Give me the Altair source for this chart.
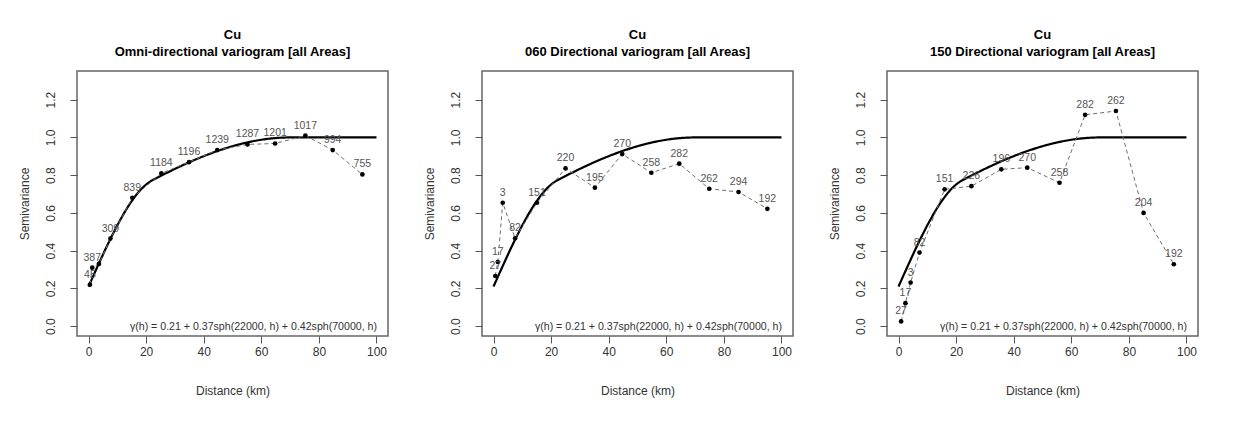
import altair as alt
import numpy as np
import pandas as pd

# ---------------- data ----------------
omni_dist = [0.5, 1.3, 3.6, 7.6, 15.2, 25.3, 34.9, 44.7, 55.2, 64.8, 75.3, 84.8, 95.1]
omni_gamma = [0.22, 0.31, 0.33, 0.464, 0.68, 0.81, 0.869, 0.933, 0.963, 0.968, 1.01, 0.933, 0.804]
omni_np = ["45", "387", "", "309", "839", "1184", "1196", "1239", "1287", "1201", "1017", "994", "755"]

d060_dist = [0.6, 1.5, 3.2, 7.5, 15.1, 25.0, 35.2, 44.7, 54.8, 64.5, 74.9, 85.1, 95.1]
d060_gamma = [0.266, 0.34, 0.654, 0.466, 0.654, 0.836, 0.734, 0.912, 0.813, 0.861, 0.728, 0.711, 0.622]
d060_np = ["27", "17", "3", "82", "151", "220", "195", "270", "258", "282", "262", "294", "192"]

d150_dist = [0.9, 2.4, 4.2, 7.3, 16.0, 25.3, 35.7, 44.7, 55.9, 64.8, 75.5, 85.1, 95.6]
d150_gamma = [0.025, 0.122, 0.231, 0.39, 0.725, 0.742, 0.831, 0.84, 0.76, 1.12, 1.14, 0.60, 0.328]
d150_np = ["27", "17", "3", "82", "151", "226", "196", "270", "258", "282", "262", "204", "192"]

# fitted model shown on the chart: 0.21 + 0.37 sph(22000, h) + 0.42 sph(70000, h)
nugget = 0.21
sills = [0.37, 0.42]
ranges_m = [22000, 70000]
model_km = list(np.arange(0, 100.25, 0.5))

panel_titles = [
    ["Cu", "Omni-directional variogram [all Areas]"],
    ["Cu", "060 Directional variogram [all Areas]"],
    ["Cu", "150 Directional variogram [all Areas]"],
]
formula_text = "\u03b3(h) = 0.21 + 0.37sph(22000, h) + 0.42sph(70000, h)"
x_ticks = [0, 20, 40, 60, 80, 100]
y_ticks = [0.0, 0.2, 0.4, 0.6, 0.8, 1.0, 1.2]


def sph(a, h):
    r = np.minimum(np.asarray(h) / a, 1.0)
    return 1.5 * r - 0.5 * r ** 3


hm = np.asarray(model_km) * 1000.0
model_gamma = nugget + sum(s * sph(a, hm) for s, a in zip(sills, ranges_m))
model_df = pd.DataFrame({"dist": model_km, "gamma": model_gamma})

FONT = "Liberation Sans"
W, H = 311, 265

xs = alt.Scale(domain=[-4, 104], nice=False, zero=False)
ys = alt.Scale(domain=[-0.052, 1.352], nice=False, zero=False)
x_axis = alt.Axis(values=x_ticks, title="Distance (km)", labelPadding=3, titlePadding=28)
y_axis = alt.Axis(values=y_ticks, format=".1f", title="Semivariance", labelAngle=270,
                  labelAlign="center", labelBaseline="bottom", labelPadding=13, titlePadding=13)


def panel(dist, gamma, labels, title):
    df = pd.DataFrame({"dist": dist, "gamma": gamma, "np": labels})
    X = alt.X("dist:Q", scale=xs, axis=x_axis)
    Y = alt.Y("gamma:Q", scale=ys, axis=y_axis)
    model = alt.Chart(model_df).mark_line(color="black", strokeWidth=2.2).encode(x=X, y=Y)
    dashed = alt.Chart(df).mark_line(color="#707070", strokeWidth=1, strokeDash=[4, 3]).encode(
        x=X, y=Y, order="dist:Q")
    pts = alt.Chart(df).mark_circle(color="black", size=22, opacity=1).encode(x=X, y=Y)
    txt = alt.Chart(df).mark_text(dy=-10, fontSize=10.5, color="#555555", font=FONT).encode(
        x=X, y=Y, text="np:N")
    formula = alt.Chart(pd.DataFrame({"t": [formula_text]})).mark_text(
        align="right", baseline="middle", fontSize=10.6, color="#333333", font=FONT
    ).encode(x=alt.value(300), y=alt.value(256), text="t:N")
    return alt.layer(model, dashed, pts, txt, formula).properties(
        width=W, height=H,
        title=alt.TitleParams(title, fontSize=13, fontWeight="bold", font=FONT, lineHeight=17,
                              anchor="middle", offset=12, color="black"),
    )


chart = alt.hconcat(
    panel(omni_dist, omni_gamma, omni_np, panel_titles[0]),
    panel(d060_dist, d060_gamma, d060_np, panel_titles[1]),
    panel(d150_dist, d150_gamma, d150_np, panel_titles[2]),
    spacing=33,
).properties(
    padding={"left": 9, "top": 20, "right": 5, "bottom": 5},
    background="white",
).configure_view(
    stroke="#666666", strokeWidth=1.5
).configure_axis(
    domain=False, grid=False, tickSize=7, tickColor="#555555", tickWidth=1,
    labelFont=FONT, labelFontSize=12, labelColor="#333333",
    titleFont=FONT, titleFontSize=12, titleFontWeight="normal", titleColor="#333333",
)

chart.save("out.html", embed_options={"renderer": "svg", "actions": False})
